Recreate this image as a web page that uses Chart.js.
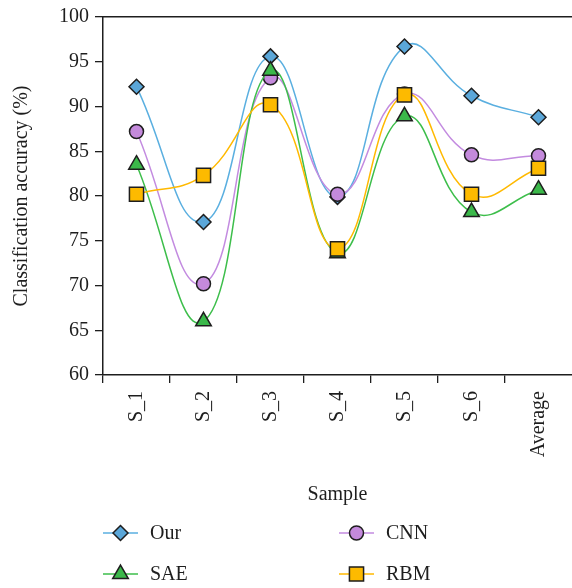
<!DOCTYPE html>
<html>
<head>
<meta charset="utf-8">
<script src="https://cdn.jsdelivr.net/npm/chart.js@4.4.1/dist/chart.umd.min.js"></script>
<style>
  html, body { margin: 0; padding: 0; background: #ffffff; }
  #wrap { width: 572px; height: 588px; }
</style>
</head>
<body>
<div id="wrap"><canvas id="c" width="572" height="588"></canvas></div>
<script>
const categories = ['S_1', 'S_2', 'S_3', 'S_4', 'S_5', 'S_6', 'Average'];
const seriesNames = ['Our', 'CNN', 'SAE', 'RBM'];
const ourValues = [92.2, 77.1, 95.6, 79.9, 96.7, 91.2, 88.8];
const cnnValues = [87.2, 70.2, 93.2, 80.2, 91.4, 84.6, 84.5];
const saeValues = [83.5, 66.0, 94.0, 73.6, 88.9, 78.2, 80.7];
const rbmValues = [80.2, 82.3, 90.2, 74.1, 91.3, 80.2, 83.1];
const yTicks = [60, 65, 70, 75, 80, 85, 90, 95, 100];

const FONT = "'Liberation Serif', 'DejaVu Serif', serif";
const INK = '#1e1e1e';
const FS = 20;

const styles = [
  { line: '#5AAFE0', fill: '#5BA7D9', point: 'rectRot', r: 7.5, order: 4 },
  { line: '#C38BE0', fill: '#C48ADC', point: 'circle', r: 7, order: 3 },
  { line: '#3DBE4B', fill: '#3BB84A', point: 'triangle', r: 9, order: 2 },
  { line: '#FFB900', fill: '#FDBA00', point: 'rect', r: 10, order: 1 }
];
const values = [ourValues, cnnValues, saeValues, rbmValues];

const datasets = seriesNames.map((name, i) => ({
  label: name,
  data: values[i],
  borderColor: styles[i].line,
  borderWidth: 1.5,
  backgroundColor: styles[i].fill,
  pointStyle: styles[i].point,
  pointRadius: styles[i].r,
  pointHoverRadius: styles[i].r,
  pointBackgroundColor: styles[i].fill,
  pointBorderColor: INK,
  pointBorderWidth: 1.5,
  tension: 0.45,
  fill: false,
  clip: false,
  order: styles[i].order,
  xAxisID: 'x',
  yAxisID: 'y'
}));

const legendPlugin = {
  id: 'customLegend',
  afterDraw(chart) {
    const ctx = chart.ctx;
    const pos = [
      { x: 103, y: 533 }, { x: 339, y: 533 },
      { x: 103, y: 574 }, { x: 339, y: 574 }
    ];
    const ds = chart.data.datasets;
    ds.forEach((d, i) => {
      const p = pos[i];
      ctx.save();
      ctx.strokeStyle = d.borderColor;
      ctx.lineWidth = 1.5;
      ctx.beginPath();
      ctx.moveTo(p.x, p.y);
      ctx.lineTo(p.x + 35, p.y);
      ctx.stroke();
      ctx.fillStyle = d.pointBackgroundColor;
      ctx.strokeStyle = INK;
      ctx.lineWidth = 1.5;
      Chart.helpers.drawPoint(ctx, { pointStyle: d.pointStyle, radius: d.pointRadius, rotation: 0, borderWidth: 1.5 }, p.x + 17.5, p.y);
      ctx.fillStyle = INK;
      ctx.font = FS + "px " + FONT;
      ctx.textBaseline = 'middle';
      ctx.textAlign = 'left';
      ctx.fillText(d.label, p.x + 47, p.y + 1);
      ctx.restore();
    });
  }
};

new Chart(document.getElementById('c'), {
  type: 'line',
  data: { labels: categories, datasets },
  plugins: [legendPlugin],
  options: {
    responsive: false,
    animation: false,
    devicePixelRatio: 1,
    layout: { autoPadding: false, padding: { left: 0, right: 0, top: 17, bottom: 79 } },
    plugins: {
      legend: { display: false },
      tooltip: { enabled: false }
    },
    scales: {
      x: {
        type: 'category',
        position: 'bottom',
        offset: true,
        grid: {
          display: true, drawOnChartArea: false, drawTicks: true, tickLength: 8, offset: true, lineWidth: 1.3,
          color: (c) => (c.tick ? INK : 'rgba(0,0,0,0)')
        },
        border: { display: true, color: INK, width: 1.5 },
        ticks: { color: INK, font: { family: FONT, size: FS }, maxRotation: 90, minRotation: 90, padding: 8, autoSkip: false },
        title: { display: true, text: 'Sample', color: INK, font: { family: FONT, size: FS }, padding: { top: 0, bottom: 2 } },
        afterFit(scale) { scale.height = 134; scale.paddingLeft = 0; scale.paddingRight = 0; }
      },
      xTop: {
        type: 'category',
        position: 'top',
        offset: true,
        grid: { display: false },
        border: { display: true, color: INK, width: 1.5 },
        ticks: { display: false },
        afterFit(scale) { scale.height = 0; scale.paddingLeft = 0; scale.paddingRight = 0; }
      },
      y: {
        type: 'linear',
        position: 'left',
        min: 60,
        max: 100,
        afterBuildTicks(scale) { scale.ticks = yTicks.map(v => ({ value: v })); },
        grid: { display: true, drawOnChartArea: false, drawTicks: true, tickLength: 8, color: INK, lineWidth: 1.3 },
        border: { display: true, color: INK, width: 1.5 },
        ticks: { color: INK, font: { family: FONT, size: FS }, padding: 6 },
        title: { display: true, text: 'Classification accuracy (%)', color: INK, font: { family: FONT, size: FS }, padding: { top: 10, bottom: 0 } },
        afterFit(scale) { scale.width = 103; scale.paddingTop = 0; scale.paddingBottom = 0; }
      }
    }
  }
});
</script>
</body>
</html>
